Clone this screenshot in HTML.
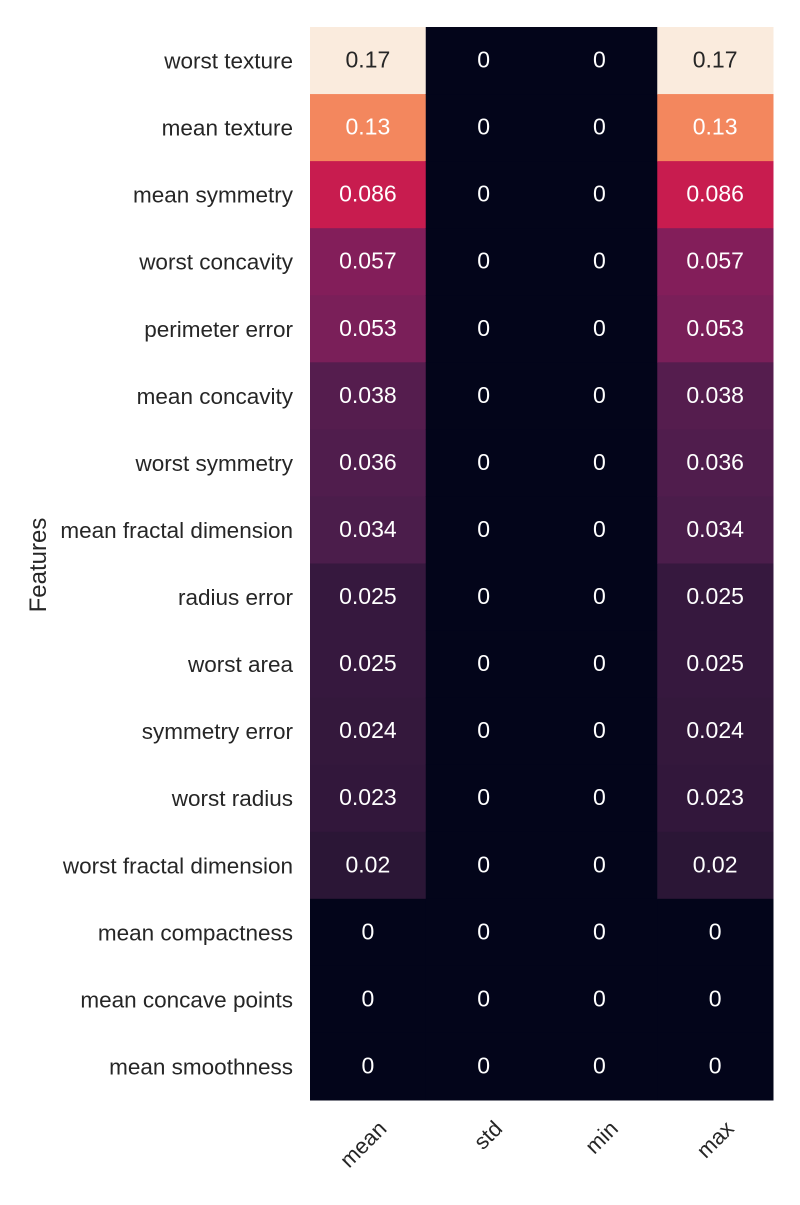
<!DOCTYPE html>
<html><head><meta charset="utf-8"><style>
body{margin:0;background:#fff;font-family:"Liberation Sans",sans-serif;}
svg text{font-family:"Liberation Sans",sans-serif;}
</style></head><body>
<svg id="chart" width="800" height="1200" xmlns="http://www.w3.org/2000/svg"></svg>
<script>
const features=["worst texture","mean texture","mean symmetry","worst concavity","perimeter error","mean concavity","worst symmetry","mean fractal dimension","radius error","worst area","symmetry error","worst radius","worst fractal dimension","mean compactness","mean concave points","mean smoothness"];
const columns=["mean","std","min","max"];
const meanVals=[0.17,0.13,0.086,0.057,0.053,0.038,0.036,0.034,0.025,0.025,0.024,0.023,0.02,0,0,0];
const stdVals=[0,0,0,0,0,0,0,0,0,0,0,0,0,0,0,0];
const minVals=[0,0,0,0,0,0,0,0,0,0,0,0,0,0,0,0];
const maxVals=[0.17,0.13,0.086,0.057,0.053,0.038,0.036,0.034,0.025,0.025,0.024,0.023,0.02,0,0,0];
const series=[meanVals,stdVals,minVals,maxVals];

const NS="http://www.w3.org/2000/svg";
const svg=document.getElementById('chart');
const X0=310,X1=773,Y0=27,Y1=1100;
const cw=(X1-X0)/columns.length, ch=(Y1-Y0)/features.length;
const xPos=i=>X0+i*cw, yPos=j=>Y0+j*ch;
const vmax=Math.max(...series.flat());
const stops=[[0,"#03051a"],[0.1,"#241432"],[0.2,"#4b1d4b"],[0.3,"#761f59"],[0.4,"#9c1c5c"],[0.5,"#c61a50"],[0.6,"#e03c46"],[0.7,"#ef6a4c"],[0.765,"#f3875e"],[0.9,"#f6bd9a"],[1,"#faebdd"]];
function hex(h){return [1,3,5].map(i=>parseInt(h.substr(i,2),16));}
function color(v){const t=Math.max(0,Math.min(1,v/vmax));
 for(let k=0;k<stops.length-1;k++){if(t<=stops[k+1][0]){const a=hex(stops[k][1]),b=hex(stops[k+1][1]),f=(t-stops[k][0])/(stops[k+1][0]-stops[k][0]);
 return "rgb("+a.map((c,i)=>Math.round(c+(b[i]-c)*f)).join(",")+")";}}return stops[stops.length-1][1];}
function el(tag,attrs,txt){const e=document.createElementNS(NS,tag);for(const k in attrs)e.setAttribute(k,attrs[k]);if(txt!==undefined)e.textContent=txt;svg.appendChild(e);return e;}
series.forEach((vals,i)=>{vals.forEach((v,j)=>{
 const r=el('rect',{x:xPos(i),y:yPos(j),width:cw+0.5,height:ch+0.5,fill:color(v)});
 
 
 const t=el('text',{x:xPos(i)+cw/2,y:yPos(j)+ch/2+7,'text-anchor':'middle','font-size':23,fill:(v/vmax>0.85)?'#262626':'#fff'},String(v));
 
 
});});
features.forEach((f,j)=>{
 const t=el('text',{x:293,y:yPos(j)+ch/2+8,'text-anchor':'end','font-size':22.5,fill:'#262626'},f);
 
 
});
columns.forEach((c,i)=>{
 const cx=xPos(i)+cw/2+20,cy=1130;
 const t=el('text',{x:cx,y:cy,'text-anchor':'end','font-size':22,fill:'#262626',transform:'rotate(-45 '+cx+' '+cy+')'},c);
 
 
});
const yl=el('text',{x:46,y:565,'text-anchor':'middle','font-size':24,fill:'#262626',transform:'rotate(-90 46 565)'},"Features");


</script>
</body></html>
